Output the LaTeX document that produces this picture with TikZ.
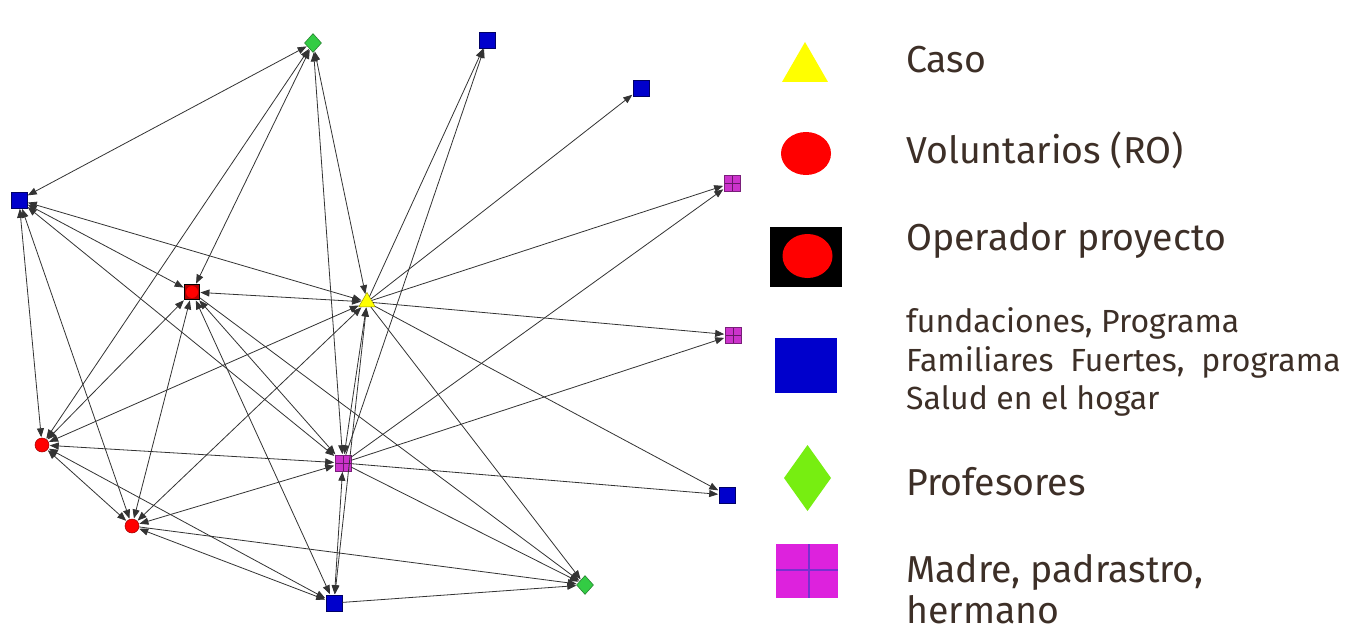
\documentclass[tikz,border=0pt]{standalone}
\usepackage{fontspec}
\setmainfont{Fira Sans}
\usetikzlibrary{arrows.meta,shapes.geometric}

\definecolor{netblue}{HTML}{0000CC}
\definecolor{netgreen}{HTML}{33CC44}
\definecolor{netmag}{HTML}{CC33CC}
\definecolor{netred}{HTML}{FF0000}
\definecolor{netyellow}{HTML}{FFFF00}
\definecolor{legmag}{HTML}{DD22DD}
\definecolor{legcross}{HTML}{7A2FD0}
\definecolor{leggreen}{HTML}{77EE11}
\definecolor{legtext}{HTML}{3D2F27}
\definecolor{tie}{HTML}{333333}

\tikzset{
  blueq/.style={rectangle, minimum size=16pt, inner sep=0pt, fill=netblue, draw=netblue!50!black, line width=0.6pt},
  famq/.style={rectangle, minimum size=16pt, inner sep=0pt, fill=netmag, draw=netmag!60!black, line width=0.6pt,
    path picture={\draw[netmag!50!black, line width=0.5pt]
      (path picture bounding box.north) -- (path picture bounding box.south)
      (path picture bounding box.west) -- (path picture bounding box.east);}},
  volc/.style={circle, minimum size=14pt, inner sep=0pt, fill=netred, draw=netred!60!black, line width=0.5pt},
  operq/.style={rectangle, minimum size=15pt, inner sep=0pt, fill=netred!70!black, draw=black, line width=0.8pt,
    path picture={\fill[netred] (path picture bounding box.center) circle (6pt);}},
  casot/.style={regular polygon, regular polygon sides=3, minimum size=19pt, inner sep=0pt, fill=netyellow, draw=netyellow!60!black, line width=0.5pt},
  profd/.style={diamond, minimum width=17pt, minimum height=19pt, inner sep=0pt, fill=netgreen, draw=netgreen!60!black, line width=0.5pt},
  tiearrow/.style={-{Triangle[length=9pt,width=7pt]}, draw=tie, line width=0.8pt, shorten >=0.5pt},
  mutual/.style={{Triangle[length=9pt,width=7pt]}-{Triangle[length=9pt,width=7pt]}, draw=tie, line width=0.8pt, shorten >=0.5pt, shorten <=0.5pt},
  legbig/.style={anchor=west, inner sep=0pt, text=legtext, font=\fontsize{37.5}{42}\selectfont},
  legsmall/.style={anchor=west, inner sep=0pt, text=legtext, align=left, font=\fontsize{32}{38.5}\selectfont},
}

\begin{document}
\begin{tikzpicture}[x=1pt, y=-1pt]
\useasboundingbox[fill=white] (0,0) rectangle (1348,631);

% actors of the network
\node[profd] (G1) at (313,43) {};
\node[blueq] (B1) at (487,40) {};
\node[blueq] (B2) at (641,88) {};
\node[famq]  (P1) at (732,183) {};
\node[blueq] (B3) at (19,200) {};
\node[operq] (R1) at (192,292) {};
\node[casot] (Y)  at (367,302) {};
\node[famq]  (P2) at (733,335) {};
\node[volc]  (R2) at (42,445) {};
\node[famq]  (P3) at (343,463) {};
\node[blueq] (B4) at (727,495) {};
\node[volc]  (R3) at (132,526) {};
\node[blueq] (B5) at (334,603) {};
\node[profd] (G2) at (585,585) {};

% reciprocal ties
\foreach \a/\b in {G1/B3, G1/R2, G1/R1, G1/P3, G1/Y,
                   B3/Y, B3/R1, B3/P3, B3/R2, B3/R3,
                   R1/Y, R1/R2, R1/R3, R1/B5, R1/P3,
                   Y/R2, Y/R3, Y/P3, Y/B5,
                   P3/B5, R2/P3, R2/R3, R2/B5, R3/P3, R3/B5}
  \draw[mutual] (\a) -- (\b);

% one-way ties
\foreach \a/\b in {Y/B1, P3/B1, Y/B2, Y/P1, P3/P1, Y/P2, P3/P2,
                   Y/B4, P3/B4, Y/G2, P3/G2, R1/G2, R3/G2, B5/G2}
  \draw[tiearrow] (\a) -- (\b);

% legend symbols
\fill[netyellow] (782,82) -- (805,42) -- (828,82) -- cycle;
\fill[netred] (806,153.5) ellipse [x radius=25pt, y radius=21.5pt];
\fill[black] (770,227) rectangle (842,287);
\fill[netred] (807.5,256) ellipse [x radius=25pt, y radius=22pt];
\fill[netblue] (775,338) rectangle (837,393);
\fill[leggreen] (807.5,445) -- (831,478) -- (807.5,511) -- (784,478) -- cycle;
\fill[legmag] (776,544) rectangle (838,598);
\draw[legcross, line width=1.2pt] (809,544) -- (809,598) (776,570) -- (838,570);

% legend labels
\node[legbig] (lcaso) at (906,60) {Caso};
\node[legbig] (lvol) at (906,150) {Voluntarios (RO)};
\node[legbig] (lop) at (906,240) {Operador proyecto};
\node[legsmall] (lfund) at (906,362) {fundaciones, Programa\\Familiares~ Fuertes,~ programa\\Salud en el hogar};
\node[legbig] (lprof) at (906,482) {Profesores};
\node[legbig, align=left, font=\fontsize{37.5}{41}\selectfont] (lfam) at (906,589) {Madre, padrastro,\\hermano};
\end{tikzpicture}
\end{document}
